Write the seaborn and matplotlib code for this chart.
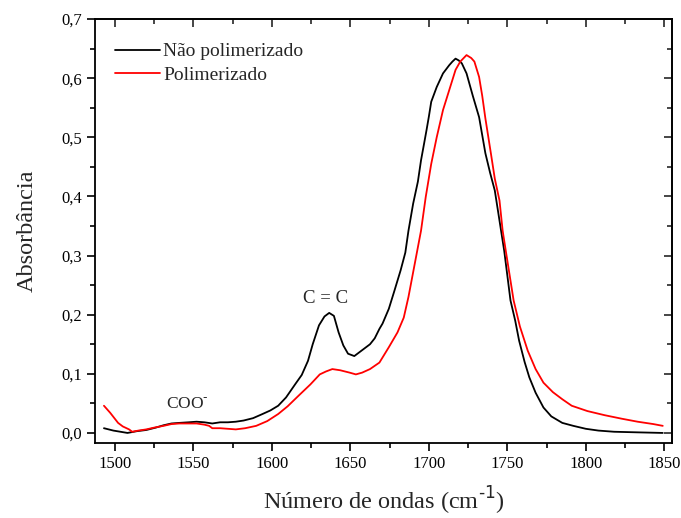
import numpy as np
import pandas as pd
import matplotlib
matplotlib.use("Agg")
import matplotlib.pyplot as plt
import seaborn as sns
from matplotlib.ticker import MultipleLocator, FuncFormatter

# espectro nao polimerizado (numero de ondas, absorbancia)
x_nao = [1493, 1499, 1508, 1514, 1520, 1526, 1531, 1536, 1541, 1547, 1552, 1557,
         1562, 1567, 1572, 1577, 1582, 1588, 1594, 1599, 1604, 1609, 1615, 1619,
         1623, 1626, 1630, 1633.5, 1636.5, 1639.5, 1642.5, 1645.5, 1648.5, 1652.5,
         1655.5, 1658.5, 1662.5, 1665.5, 1668.5, 1670.5, 1674.5, 1678, 1682, 1685,
         1687, 1690, 1693, 1695, 1697, 1698.5, 1700, 1701.5, 1705, 1709, 1713, 1715,
         1717, 1719, 1721, 1724, 1728, 1732, 1736, 1739, 1742, 1746, 1748, 1752, 1755,
         1757.5, 1761, 1764, 1768, 1773, 1778, 1785, 1792, 1800, 1808, 1818, 1833, 1849]
y_nao = [0.008, 0.004, 0.000, 0.003, 0.005, 0.009, 0.013, 0.016, 0.017, 0.018, 0.019, 0.018,
         0.016, 0.018, 0.018, 0.019, 0.021, 0.025, 0.032, 0.038, 0.046, 0.060, 0.083, 0.098,
         0.122, 0.150, 0.182, 0.197, 0.203, 0.198, 0.170, 0.148, 0.134, 0.130,
         0.136, 0.142, 0.150, 0.160, 0.176, 0.185, 0.210, 0.240, 0.275, 0.305,
         0.342, 0.388, 0.425, 0.461, 0.490, 0.512, 0.535, 0.560, 0.585, 0.608, 0.622, 0.628,
         0.633, 0.630, 0.625, 0.608, 0.570, 0.534, 0.473, 0.440, 0.410, 0.342, 0.308, 0.224, 0.190,
         0.156, 0.120, 0.094, 0.068, 0.043, 0.028, 0.017, 0.012, 0.007, 0.004, 0.002, 0.001, 0.000]

# espectro polimerizado
x_pol = [1493, 1497, 1502, 1505, 1509, 1511, 1515, 1520, 1525, 1531, 1536, 1541,
         1547, 1552, 1557, 1560, 1562, 1567, 1572, 1577, 1583, 1590, 1597, 1604,
         1610, 1617, 1624.5, 1630.5, 1634.5, 1638.5, 1643.5, 1649.5, 1653.5, 1657.5,
         1662.5, 1668.5, 1674.5, 1680, 1684, 1687, 1689, 1692, 1695, 1698, 1701.5,
         1705, 1709, 1713, 1717, 1720, 1724, 1727, 1729, 1732, 1734, 1736, 1739.5,
         1742, 1745, 1747, 1749, 1754, 1758, 1763, 1768, 1773, 1779, 1785, 1791, 1801,
         1812, 1823, 1833, 1843, 1849]
y_pol = [0.046, 0.034, 0.017, 0.011, 0.006, 0.002, 0.004, 0.006, 0.009, 0.012, 0.015, 0.016,
         0.016, 0.016, 0.014, 0.012, 0.008, 0.008, 0.007, 0.006, 0.008, 0.012, 0.020, 0.032,
         0.045, 0.063, 0.082, 0.099, 0.104, 0.108, 0.106, 0.102, 0.099, 0.102,
         0.108, 0.119, 0.145, 0.170, 0.195, 0.230, 0.258, 0.300, 0.342, 0.399, 0.455,
         0.500, 0.546, 0.580, 0.614, 0.628, 0.639, 0.634, 0.628, 0.602, 0.570, 0.532, 0.473,
         0.430, 0.393, 0.342, 0.308, 0.224, 0.180, 0.139, 0.108, 0.085, 0.069, 0.057, 0.046, 0.037,
         0.030, 0.024, 0.019, 0.015, 0.012]

nomes = ["Não polimerizado", "Polimerizado"]
cores = ["black", "red"]

df = pd.concat([
    pd.DataFrame({"x": x_nao, "y": y_nao, "amostra": nomes[0]}),
    pd.DataFrame({"x": x_pol, "y": y_pol, "amostra": nomes[1]}),
])

sns.set_style("white")
plt.rcParams['font.family'] = ['Liberation Serif', 'DejaVu Serif']

fig = plt.figure(figsize=(6.81, 5.18), dpi=100)
ax = fig.add_axes([0.1395, 0.1448, 0.8473, 0.8185])

sns.lineplot(data=df, x="x", y="y", hue="amostra", palette=cores, sort=False,
             estimator=None, linewidth=1.3, ax=ax)

ax.set_xlim(1487.3, 1854.9)
ax.set_ylim(-0.017, 0.7)

ax.xaxis.set_major_locator(MultipleLocator(50))
ax.xaxis.set_minor_locator(MultipleLocator(25))
ax.yaxis.set_major_locator(MultipleLocator(0.1))
ax.yaxis.set_minor_locator(MultipleLocator(0.05))
ax.yaxis.set_major_formatter(FuncFormatter(lambda v, p: f"{v:.1f}".replace(".", ",")))

ax.tick_params(which="both", direction="out", bottom=True, left=True, top=False,
               right=False, labelsize=12, width=1.2, colors="black")
ax.tick_params(which="major", length=6)
ax.tick_params(which="minor", length=3.5)

# ticks de dentro no topo e na direita
top = ax.secondary_xaxis("top")
top.xaxis.set_major_locator(MultipleLocator(50))
top.xaxis.set_minor_locator(MultipleLocator(25))
top.tick_params(which="both", direction="in", labeltop=False, width=1.2)
top.tick_params(which="major", length=6)
top.tick_params(which="minor", length=3.5)
right = ax.secondary_yaxis("right")
right.yaxis.set_major_locator(MultipleLocator(0.1))
right.yaxis.set_minor_locator(MultipleLocator(0.05))
right.tick_params(which="both", direction="in", labelright=False, width=1.2)
right.tick_params(which="major", length=6)
right.tick_params(which="minor", length=3.5)

for s in ax.spines.values():
    s.set_linewidth(1.3)
    s.set_color("black")
top.spines["top"].set_linewidth(1.3)
right.spines["right"].set_linewidth(1.3)

ax.set_xlabel("Número de ondas (cm$^{\\text{-1}}$)", fontsize=17.5, labelpad=9)
ax.set_ylabel("Absorbância", fontsize=17.5, labelpad=17)

ax.text(1634, 0.219, "C = C", fontsize=13.5, ha="center", va="baseline")
ax.text(1546, 0.041, "COO$^{\\text{-}}$", fontsize=12.5, ha="center", va="baseline")

leg = ax.legend(loc="upper left", frameon=False, fontsize=14, handlelength=2.3,
                handletextpad=0.15, labelspacing=0.3, bbox_to_anchor=(0.005, 0.985))
for ln in leg.get_lines():
    ln.set_linewidth(1.3)

fig.savefig("out.png", dpi=100)
